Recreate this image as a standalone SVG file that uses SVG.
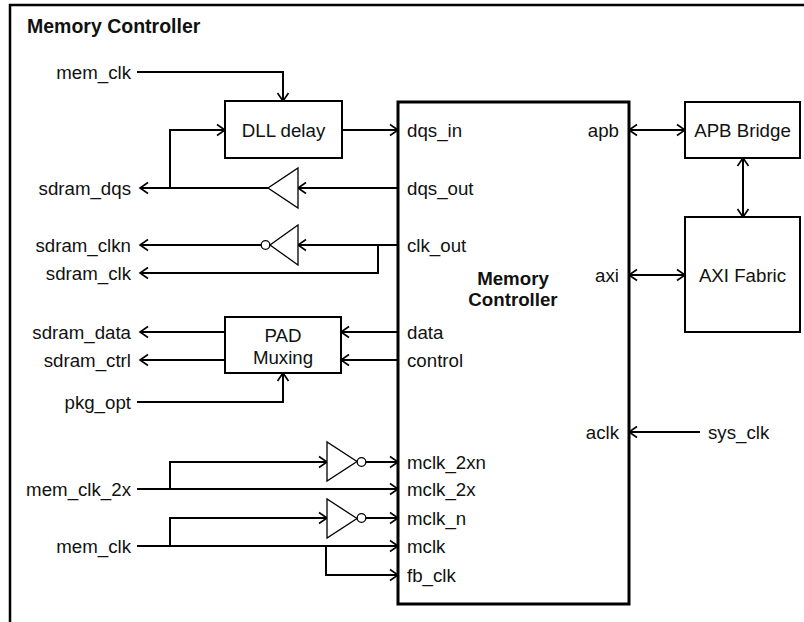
<svg xmlns="http://www.w3.org/2000/svg" width="804" height="622" viewBox="0 0 804 622">
<defs>
<marker id="arr" viewBox="-10 -7 12 14" refX="0" refY="0" markerWidth="12" markerHeight="14" markerUnits="userSpaceOnUse" orient="auto-start-reverse">
<path d="M-8,-5.5 L0,0 L-8,5.5" fill="none" stroke="#000" stroke-width="1.6"/>
</marker>
<style>
.t{font-family:"Liberation Sans",Arial,sans-serif;font-size:18.7px;fill:#111}
.b{font-weight:bold}
.e{text-anchor:end}
.m{text-anchor:middle}
.box{fill:#fff;stroke:#000;stroke-width:2}
.w{fill:none;stroke:#000;stroke-width:2}
.a{marker-end:url(#arr)}
.aa{marker-start:url(#arr);marker-end:url(#arr)}
.g{fill:#fff;stroke:#000;stroke-width:1.3}
</style>
</defs>
<rect width="804" height="622" fill="#fff"/>
<path d="M10,622 V5 H804" fill="none" stroke="#000" stroke-width="2.5"/>
<text class="t b" x="27" y="33" style="font-size:19.5px">Memory Controller</text>

<g id="connectors">
<path class="w a" d="M137,72 H283 V101"/>
<path class="w a" d="M342,130 H398"/>
<path class="w a" d="M398,188 H298"/>
<path class="w a" d="M268,188 H140"/>
<path class="w a" d="M170,188 V130 H225"/>
<path class="w a" d="M398,245 H298"/>
<path class="w a" d="M261,245 H140"/>
<path class="w a" d="M378,245 V273 H140"/>
<path class="w a" d="M398,332 H341"/>
<path class="w a" d="M398,360 H341"/>
<path class="w a" d="M225,332 H140"/>
<path class="w a" d="M225,360 H140"/>
<path class="w a" d="M137,402 H283 V373"/>
<path class="w a" d="M137,489 H398"/>
<path class="w a" d="M170,489 V462 H327"/>
<path class="w a" d="M366,462 H398"/>
<path class="w a" d="M137,546 H398"/>
<path class="w a" d="M170,546 V518 H327"/>
<path class="w a" d="M366,518 H398"/>
<path class="w a" d="M326,546 V575 H398"/>
<path class="w aa" d="M629,130 H685"/>
<path class="w aa" d="M743,158 V217"/>
<path class="w aa" d="M629,275 H685"/>
<path class="w a" d="M700,432 H629"/>
</g>

<g id="labels">
<text class="t e" x="131" y="78.5">mem_clk</text>
<text class="t e" x="131" y="194.5">sdram_dqs</text>
<text class="t e" x="131" y="251.5">sdram_clkn</text>
<text class="t e" x="131" y="279.5">sdram_clk</text>
<text class="t e" x="131" y="338.5">sdram_data</text>
<text class="t e" x="131" y="366.5">sdram_ctrl</text>
<text class="t e" x="131" y="408.5">pkg_opt</text>
<text class="t e" x="131" y="495.5">mem_clk_2x</text>
<text class="t e" x="131" y="552.5">mem_clk</text>
<text class="t" x="708" y="438.5">sys_clk</text>
</g>

<g id="dll">
<rect class="box" x="225" y="101" width="117" height="57"/>
<text class="t m" x="283.5" y="136.5">DLL delay</text>
</g>

<g id="dqs_buf">
<polygon class="g" points="298,168 298,208 268,188"/>
</g>

<g id="clk_inv">
<polygon class="g" points="298,225 298,265 270,245"/>
<circle class="g" cx="265.5" cy="245" r="4.3"/>
</g>

<g id="pad">
<rect class="box" x="225" y="317" width="116" height="56"/>
<text class="t m" x="283" y="341.5">PAD</text>
<text class="t m" x="283" y="363.5">Muxing</text>
</g>

<g id="inv_2x">
<polygon class="g" points="327,442 327,481 357,461.5"/>
<circle class="g" cx="361.5" cy="462" r="4.3"/>
</g>

<g id="inv_1x">
<polygon class="g" points="327,499 327,538 357,518.5"/>
<circle class="g" cx="361.5" cy="518" r="4.3"/>
</g>

<g id="mc">
<rect x="398" y="102" width="231" height="502" fill="#fff" stroke="#000" stroke-width="3"/>
<text class="t b m" x="513" y="285">Memory</text>
<text class="t b m" x="513" y="306">Controller</text>
<text class="t" x="407" y="136.5">dqs_in</text>
<text class="t" x="407" y="194.5">dqs_out</text>
<text class="t" x="407" y="251.5">clk_out</text>
<text class="t" x="407" y="338.5">data</text>
<text class="t" x="407" y="366.5">control</text>
<text class="t" x="407" y="468.5">mclk_2xn</text>
<text class="t" x="407" y="495.5">mclk_2x</text>
<text class="t" x="407" y="524.5">mclk_n</text>
<text class="t" x="407" y="552.5">mclk</text>
<text class="t" x="407" y="581.5">fb_clk</text>
<text class="t e" x="619" y="136.5">apb</text>
<text class="t e" x="619" y="281.5">axi</text>
<text class="t e" x="619" y="438.5">aclk</text>
</g>

<g id="apb">
<rect class="box" x="685" y="102" width="115" height="56"/>
<text class="t m" x="742.5" y="136.5">APB Bridge</text>
</g>

<g id="axi">
<rect class="box" x="685" y="217" width="115" height="115"/>
<text class="t m" x="742.5" y="281.5">AXI Fabric</text>
</g>
</svg>
